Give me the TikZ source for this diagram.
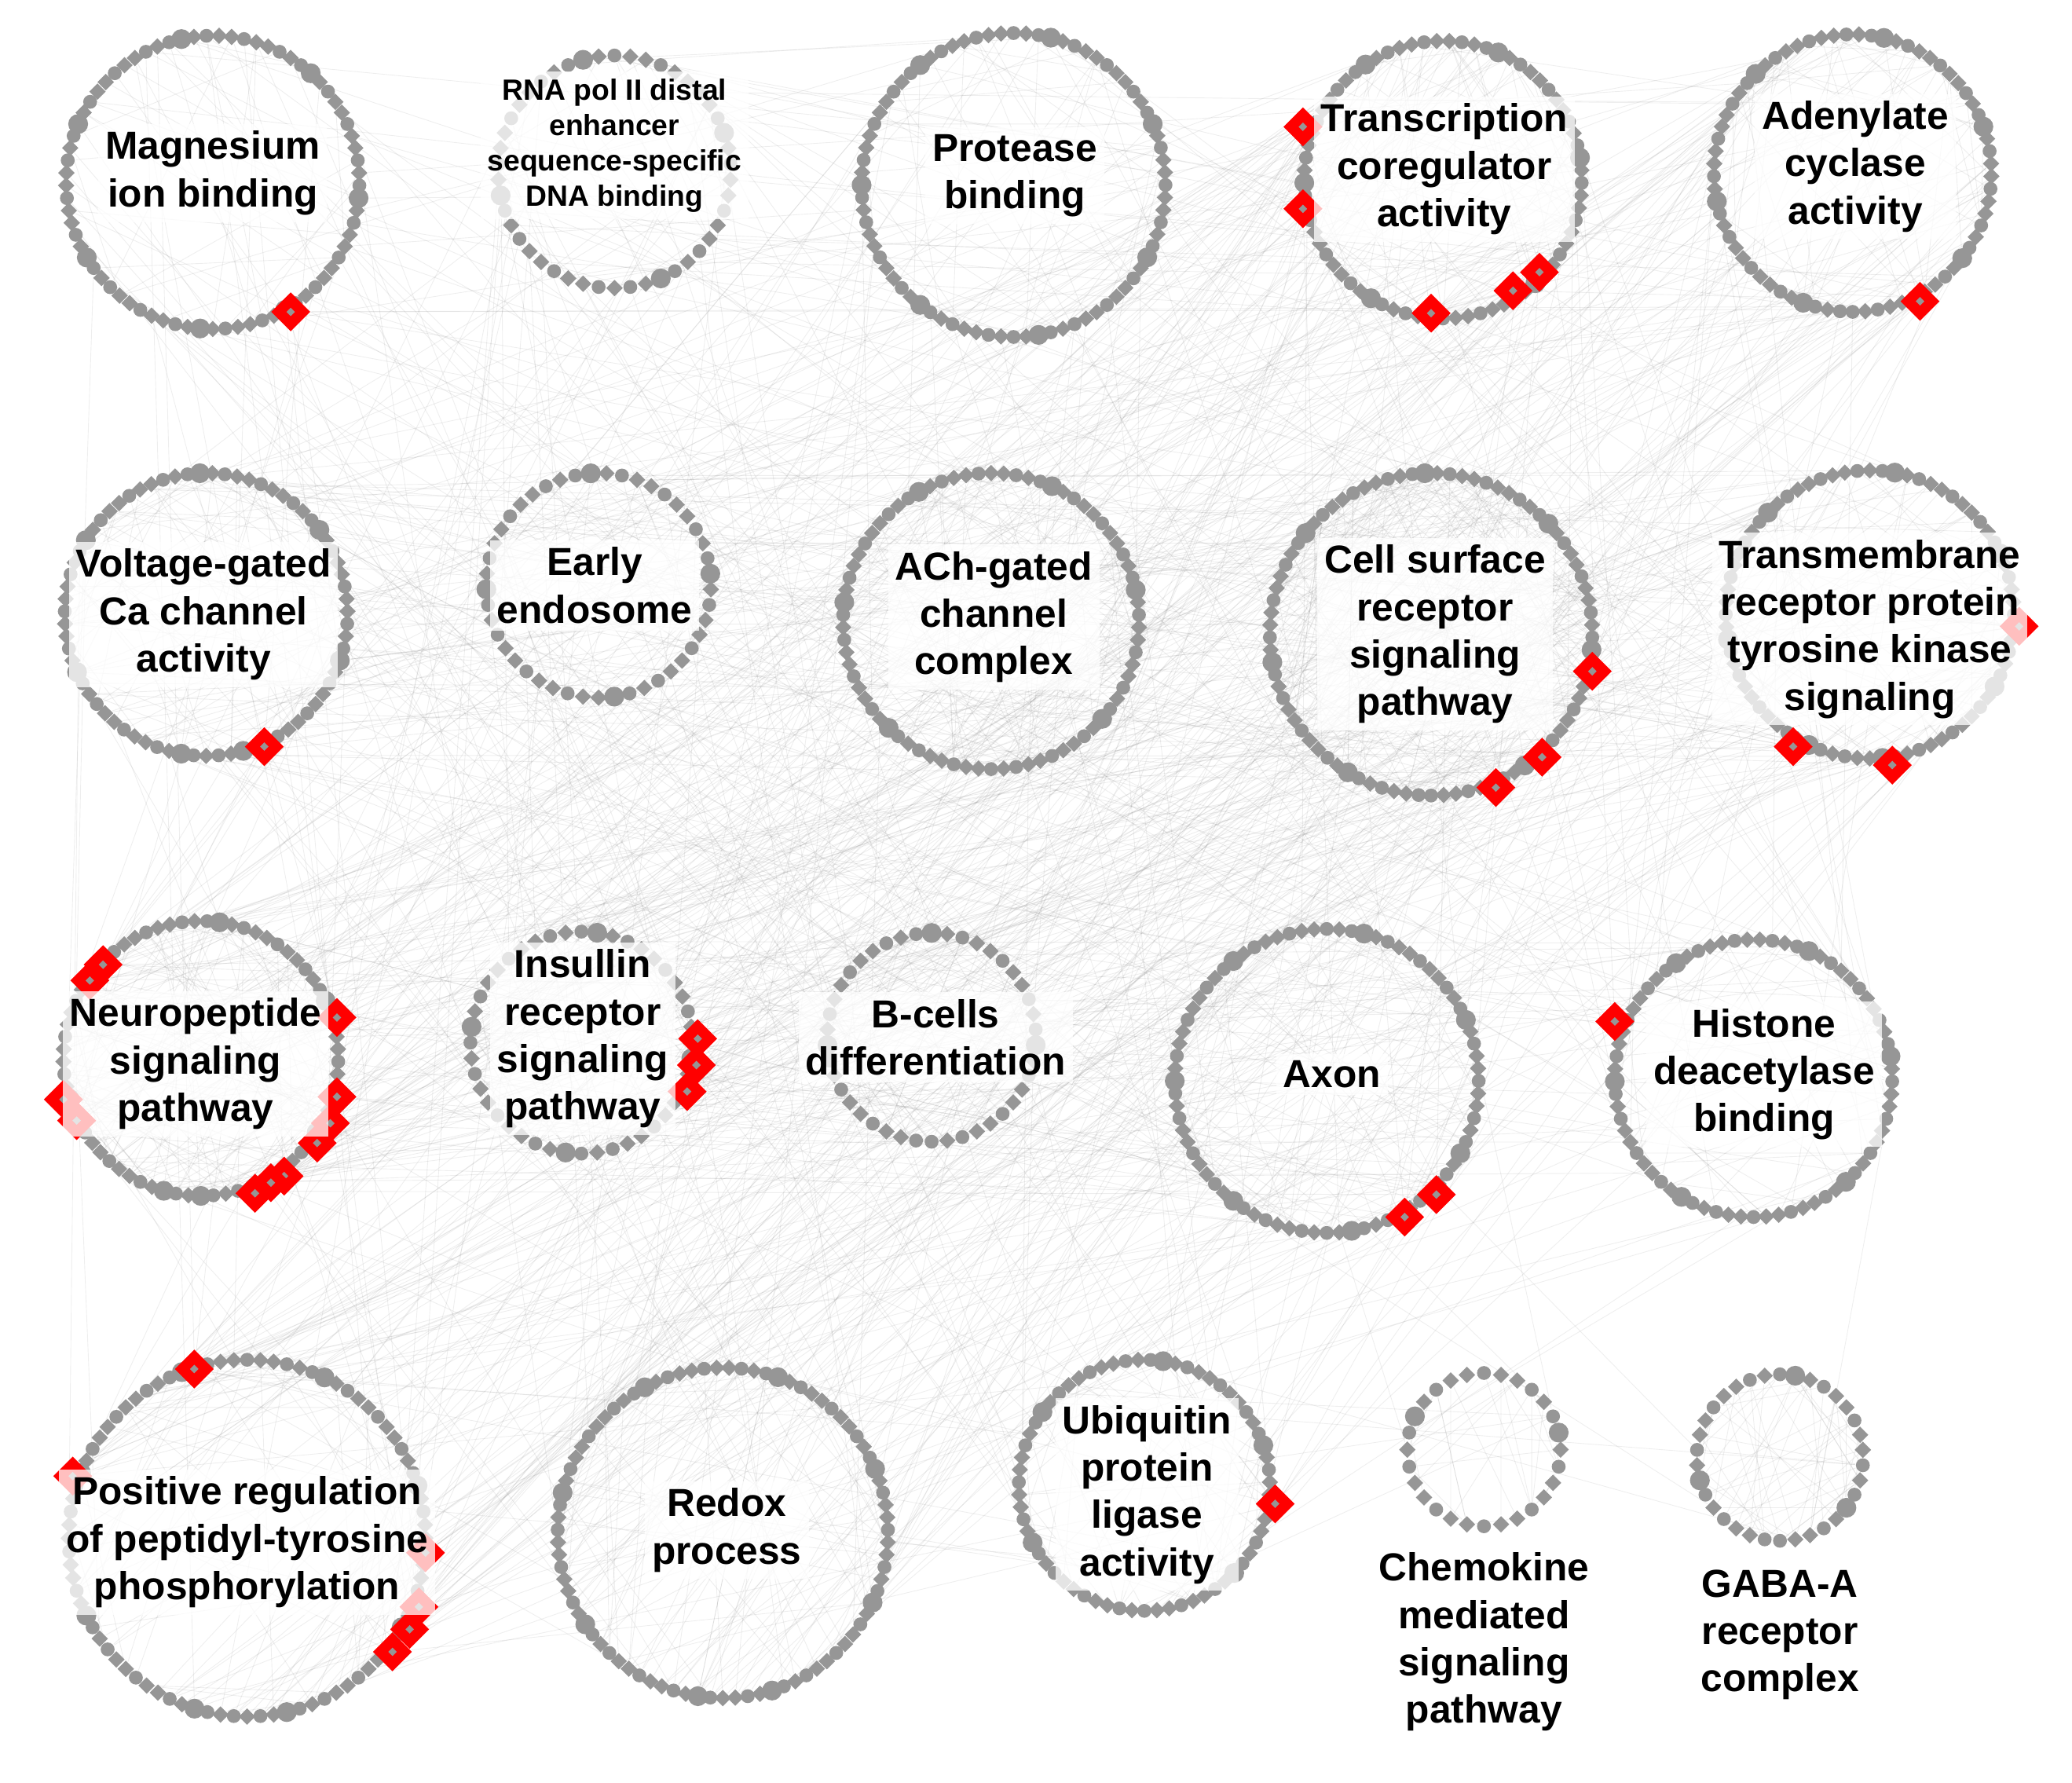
\documentclass[tikz,border=0pt]{standalone}
\usepackage{fontspec}
\setmainfont{Liberation Sans}
\usetikzlibrary{shapes.geometric,positioning,calc}
\definecolor{gnode}{RGB}{150,150,150}
\pgfdeclarelayer{paper}
\pgfdeclarelayer{edges}
\pgfsetlayers{paper,edges,main}

\begin{document}
\begin{tikzpicture}[x=0.01cm,y=-0.01cm]
\tikzstyle{dot} = [fill=gnode, inner sep=0pt]
\tikzstyle{rd} = [diamond, fill=red, inner sep=0pt, minimum size=3mm]
\tikzstyle{ri} = [diamond, fill=gnode, inner sep=0pt, minimum size=0.7mm]
\tikzstyle{web} = [draw=black!50, line width=0.15pt, draw opacity=0.13]
\tikzset{term/.style={font=\fontsize{8.4}{10.2}\selectfont\bfseries, align=center, fill=white, fill opacity=0.75, text opacity=1, inner sep=1.5pt}}
\begin{pgfonlayer}{paper}
\fill[white] (0,0) rectangle (1568,1349);
\end{pgfonlayer}
\useasboundingbox (0,0) rectangle (1568,1349);

% node counts per cluster
\def\cnt{{73,46,76,69,69,71,45,74,81,72,69,44,42,76,69,84,83,63,28,34}}

% clusters: id/x/y/radius/nodes
\foreach \k/\cx/\cy/\r/\n in {1/161/138/111/73, 2/465/130/88/46, 3/767/140/115/76, 4/1092/136/105/69, 5/1402/131/105/69,
  6/156/465/107/71, 7/453/443/85/45, 8/750/470/112/74, 9/1083/480/122/81, 10/1415/465/109/72,
  11/152/801/104/69, 12/440/789/84/44, 13/705/785/79/42, 14/1004/818/115/76, 15/1327/816/105/69,
  16/187/1164/135/84, 17/547/1160/125/83, 18/866/1124/95/63, 19/1123/1097/58/28, 20/1347/1103/63/34}{
  \coordinate (k\k) at (\cx,\cy);
  \pgfmathsetmacro\st{360/\n}
  \foreach \i in {1,...,\n}{
    \pgfmathsetmacro\a{90+\st*\i}
    \pgfmathtruncatemacro\s{mod(\i*7+\k*3,11)}
    \ifnum\s<4 \def\shp{circle}\def\sz{1.05mm}\else\ifnum\s=10 \def\shp{circle}\def\sz{1.5mm}\else\def\shp{diamond}\def\sz{1.3mm}\fi\fi
    \node[dot, shape=\shp, minimum size=\sz] (c\k-\i) at ($(k\k)+(\a:\r)$) {};
  }
}

% red hits
\foreach \x/\y [count=\j] in {220/236, 986/96, 986/158, 1083/237, 1145/220, 1165/206, 1453/228, 200/565,
  1205/508, 1167/573, 1132/596, 1528/474, 1357/565, 1432/579,
  78/730, 68/742, 255/770, 48/832, 58/848, 255/830, 250/850, 240/865, 215/890, 205/895, 193/903,
  528/786, 527/806, 520/826, 1087/904, 1063/921, 1222/773,
  147/1036, 55/1117, 322/1175, 317/1216, 310/1233, 297/1250, 965/1138}{
  \node[rd] (r\j) at (\x,\y) {};
  \node[ri] (ri\j) at (r\j) {};
}

\begin{pgfonlayer}{edges}
\pgfmathsetseed{11}
% between clusters
\foreach \e in {1,...,520}{
  \pgfmathtruncatemacro\ka{random(1,18)}
  \pgfmathtruncatemacro\kb{random(1,18)}
  \pgfmathtruncatemacro\na{\cnt[\ka-1]}
  \pgfmathtruncatemacro\nb{\cnt[\kb-1]}
  \pgfmathtruncatemacro\ia{random(1,\na)}
  \pgfmathtruncatemacro\ib{random(1,\nb)}
  \draw[web] (c\ka-\ia) -- (c\kb-\ib);
}
% upper right to left side
\foreach \e in {1,...,220}{
  \pgfmathtruncatemacro\ka{{4,5,9,10,14}[random(0,4)]}
  \pgfmathtruncatemacro\kb{{6,11,12,16,17}[random(0,4)]}
  \pgfmathtruncatemacro\na{\cnt[\ka-1]}
  \pgfmathtruncatemacro\nb{\cnt[\kb-1]}
  \pgfmathtruncatemacro\ia{random(1,\na)}
  \pgfmathtruncatemacro\ib{random(1,\nb)}
  \draw[web] (c\ka-\ia) -- (c\kb-\ib);
}
% the two loose clusters
\foreach \e in {1,...,12}{
  \pgfmathtruncatemacro\ka{random(19,20)}
  \pgfmathtruncatemacro\kb{{14,15,18}[random(0,2)]}
  \pgfmathtruncatemacro\na{\cnt[\ka-1]}
  \pgfmathtruncatemacro\nb{\cnt[\kb-1]}
  \pgfmathtruncatemacro\ia{random(1,\na)}
  \pgfmathtruncatemacro\ib{random(1,\nb)}
  \draw[web] (c\ka-\ia) -- (c\kb-\ib);
}
% inside clusters
\foreach \k/\m in {1/25, 2/20, 3/25, 4/45, 5/50, 6/45, 7/15, 8/60, 9/110, 10/45,
  11/110, 12/30, 13/20, 14/50, 15/35, 16/50, 17/40, 18/35, 19/30, 20/60}{
  \pgfmathtruncatemacro\n{\cnt[\k-1]}
  \foreach \e in {1,...,\m}{
    \pgfmathtruncatemacro\ia{random(1,\n)}
    \pgfmathtruncatemacro\ib{random(1,\n)}
    \draw[web] (c\k-\ia) -- (c\k-\ib);
  }
}
% from red hits
\foreach \j in {1,...,38}{
  \foreach \e in {1,...,6}{
    \pgfmathtruncatemacro\kb{random(1,18)}
    \pgfmathtruncatemacro\nb{\cnt[\kb-1]}
    \pgfmathtruncatemacro\ib{random(1,\nb)}
    \draw[web] (r\j) -- (c\kb-\ib);
  }
}
\end{pgfonlayer}

\node[term] (t1) at (161,131) {Magnesium\\ion binding};
\node[term, font=\fontsize{6.3}{7.6}\selectfont\bfseries] (t2) at (465,110) {RNA pol II distal\\enhancer\\sequence-specific\\DNA binding};
\node[term] (t3) at (768,133) {Protease\\binding};
\node[term] (t4) at (1093,128) {Transcription\\coregulator\\activity};
\node[term] (t5) at (1404,126) {Adenylate\\cyclase\\activity};
\node[term] (t6) at (154,465) {Voltage-gated\\Ca channel\\activity};
\node[term] (t7) at (450,443) {Early\\endosome};
\node[term] (t8) at (752,467) {ACh-gated\\channel\\complex};
\node[term] (t9) at (1086,480) {Cell surface\\receptor\\signaling\\pathway};
\node[term] (t10) at (1415,476) {Transmembrane\\receptor protein\\tyrosine kinase\\signaling};
\node[term] (t11) at (148,805) {Neuropeptide\\signaling\\pathway};
\node[term] (t12) at (441,786) {Insullin\\receptor\\signaling\\pathway};
\node[term] (t13) at (708,785) {B-cells\\differentiation};
\node[term] (t14) at (1008,813) {Axon};
\node[term] (t15) at (1335,813) {Histone\\deacetylase\\binding};
\node[term] (t16) at (187,1167) {Positive regulation\\of peptidyl-tyrosine\\phosphorylation};
\node[term] (t17) at (550,1158) {Redox\\process};
\node[term] (t18) at (868,1131) {Ubiquitin\\protein\\ligase\\activity};
\node[term, below=0.8mm of c19-28] (t19) {Chemokine\\mediated\\signaling\\pathway};
\node[term, below=1mm of c20-34] (t20) {GABA-A\\receptor\\complex};

\end{tikzpicture}
\end{document}
